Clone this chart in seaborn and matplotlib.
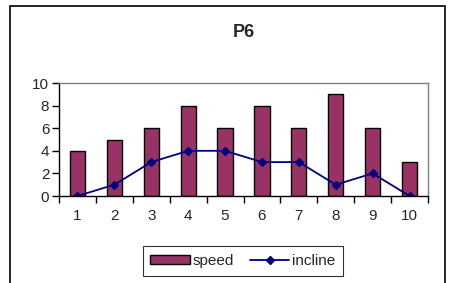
import matplotlib
matplotlib.use("Agg")
import matplotlib.pyplot as plt
import matplotlib.patches as mpatches
import seaborn as sns
import pandas as pd
import numpy as np

# chart values
categories = ['1', '2', '3', '4', '5', '6', '7', '8', '9', '10']
speed = [4, 5, 6, 8, 6, 8, 6, 9, 6, 3]
incline = [0, 1, 3, 4, 4, 3, 3, 1, 2, 0]

sns.set_style('white')
plt.rcParams['font.family'] = ['Liberation Sans', 'DejaVu Sans']

df = pd.DataFrame({'cat': categories, 'speed': speed, 'incline': incline})

fig = plt.figure(figsize=(4.51, 2.83), dpi=100)
ax = fig.add_axes([59 / 451, 1 - 196 / 283, (428 - 59) / 451, (196 - 83) / 283])

# outer frame of the chart
fig.patches.append(mpatches.Rectangle((10 / 451, -0.05), 435 / 451, 1 - 6 / 283 + 0.05,
                                      transform=fig.transFigure, fill=False,
                                      edgecolor='black', linewidth=1.2))

sns.barplot(data=df, x='cat', y='speed', color='#993366', width=0.41,
            edgecolor='black', linewidth=1.0, saturation=1, ax=ax)
line, = ax.plot(np.arange(len(categories)), df['incline'], color='#000080', linewidth=1.3,
                marker='D', markersize=4.5)

ax.set_xlim(-0.5, len(categories) - 0.5)
ax.set_ylim(0, 10)
ax.set_yticks([0, 2, 4, 6, 8, 10])
ax.set_xlabel('')
ax.set_ylabel('')

for side in ['top', 'right']:
    ax.spines[side].set_color('#808080')
    ax.spines[side].set_linewidth(1.0)
for side in ['left', 'bottom']:
    ax.spines[side].set_color('black')
    ax.spines[side].set_linewidth(1.0)

ax.tick_params(axis='y', which='major', direction='out', length=5, width=1,
               color='black', labelsize=11, left=True, pad=2)
ax.tick_params(axis='x', which='major', length=0, labelsize=11, pad=9)
ax.set_xticks(np.arange(-0.5, len(categories), 1), minor=True)
ax.tick_params(axis='x', which='minor', direction='out', length=5, width=1,
               color='black', bottom=True)

ax.set_title('P6', fontsize=13, fontweight='bold', y=1, pad=33)

bar_handle = mpatches.Patch(facecolor='#993366', edgecolor='black', linewidth=1.0)
leg = fig.legend([bar_handle, line], ['speed', 'incline'], loc='center',
                 bbox_to_anchor=(243 / 451, 1 - 261 / 283), ncol=2,
                 fontsize=11, frameon=True, fancybox=False, edgecolor='black',
                 handlelength=2.6, handleheight=0.6, handletextpad=0.2,
                 columnspacing=1.0, borderpad=0.5)
leg.get_frame().set_linewidth(0.8)

fig.savefig('out.png', dpi=100)
